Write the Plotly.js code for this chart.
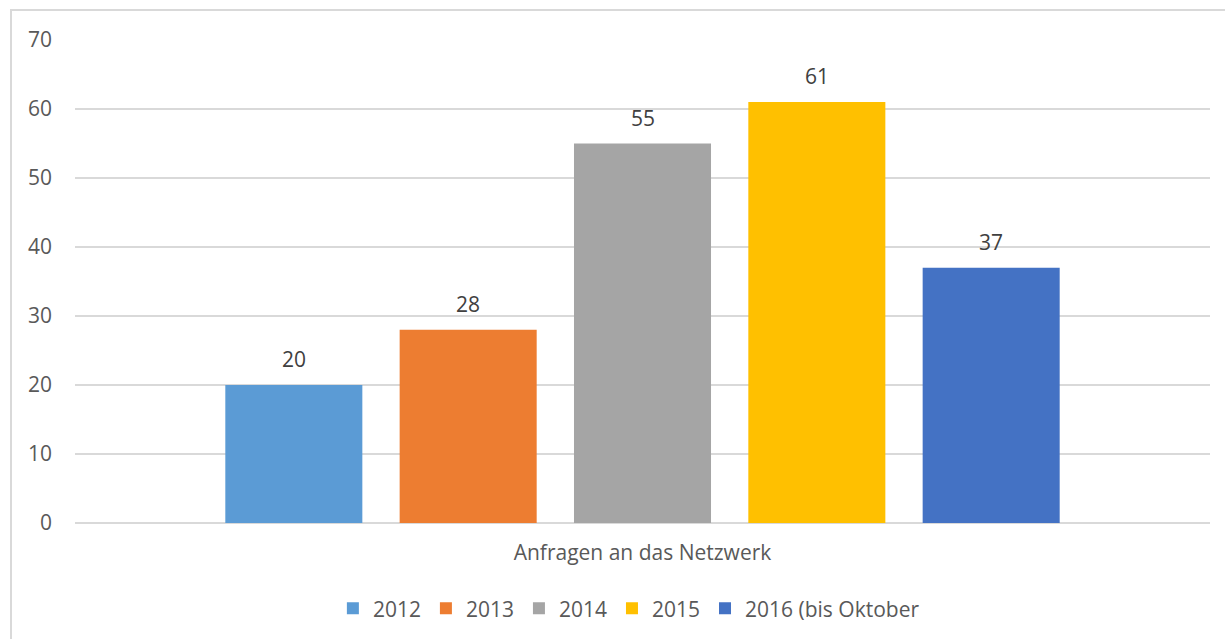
<!DOCTYPE html>
<html>
<head>
<meta charset="utf-8">
<script src="https://cdn.plot.ly/plotly-3.0.1.min.js"></script>
<style>
html,body{margin:0;padding:0;background:#fff;}
#chart{width:1225px;height:639px;}
</style>
</head>
<body>
<div id="chart"></div>
<script>
const category = ["Anfragen an das Netzwerk"];
const seriesNames = ["2012", "2013", "2014", "2015", "2016 (bis Oktober"];
const seriesValues = [[20], [28], [55], [61], [37]];
const seriesColors = ["#5b9bd5", "#ed7d31", "#a5a5a5", "#ffc000", "#4472c4"];
const yTicks = [0, 10, 20, 30, 40, 50, 60, 70];

const fontFam = "'Open Sans', Lato, sans-serif";
const FS = 21;

const margin = {l: 75, r: 15, t: 40, b: 116, autoexpand: false};
const W = 1225, H = 639;
const bargap = 0.232, bargroupgap = 0.214;
const plotW = W - margin.l - margin.r;
const slotW = plotW * (1 - bargap) / seriesNames.length;

const traces = seriesNames.map((name, i) => ({
  type: "bar",
  name: name,
  x: category,
  y: seriesValues[i],
  marker: {color: seriesColors[i]},
  hoverinfo: "none"
}));

// data labels above bars
const annotations = [];
seriesNames.forEach((name, i) => {
  seriesValues[i].forEach((v, j) => {
    annotations.push({
      x: category[j], y: v, xref: "x", yref: "y",
      text: String(v), showarrow: false,
      xanchor: "center", yanchor: "bottom",
      xshift: (i - (seriesNames.length - 1) / 2) * slotW,
      yshift: 10,
      font: {family: fontFam, size: FS, color: "#404040"}
    });
  });
});

const layout = {
  width: W,
  height: H,
  margin: margin,
  paper_bgcolor: "#ffffff",
  plot_bgcolor: "#ffffff",
  barmode: "group",
  bargap: bargap,
  bargroupgap: bargroupgap,
  font: {family: fontFam, size: FS, color: "#595959"},
  showlegend: true,
  legend: {
    orientation: "h",
    x: 0.488, xanchor: "center",
    y: -0.135, yanchor: "top",
    font: {family: fontFam, size: FS, color: "#595959"},
    traceorder: "normal",
    itemwidth: 30
  },
  xaxis: {
    showgrid: false,
    showline: false,
    zeroline: false,
    ticks: "",
    tickfont: {family: fontFam, size: FS, color: "#595959"},
    ticklabelstandoff: 15,
    automargin: false
  },
  yaxis: {
    range: [0, 70],
    tickvals: yTicks,
    ticktext: yTicks.map(String),
    showgrid: true,
    gridcolor: "#d9d9d9",
    gridwidth: 1.5,
    zeroline: true,
    zerolinecolor: "#d9d9d9",
    zerolinewidth: 1.5,
    showline: false,
    ticks: "",
    ticklabelstandoff: 22,
    automargin: false,
    tickfont: {family: fontFam, size: FS, color: "#595959"}
  },
  annotations: annotations,
  shapes: [{
    type: "rect",
    xref: "paper", yref: "paper",
    x0: (11 - 75) / 1135, x1: 1.03,
    y0: -0.26, y1: (523 - 10) / 483,
    line: {color: "#d9d9d9", width: 2},
    fillcolor: "rgba(0,0,0,0)",
    layer: "below"
  }]
};

Plotly.newPlot("chart", traces, layout, {staticPlot: true, displayModeBar: false});
</script>
</body>
</html>
